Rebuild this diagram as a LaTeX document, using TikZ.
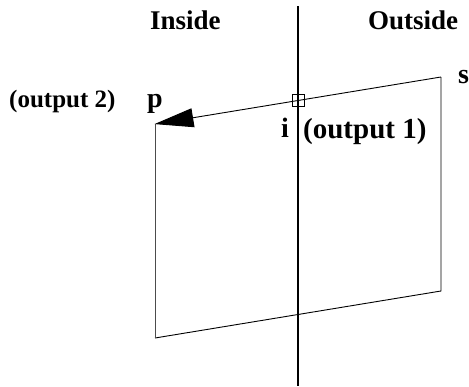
\documentclass[tikz,border=0pt]{standalone}
\usepackage{fontspec}
\setmainfont{Liberation Serif}
\usetikzlibrary{arrows.meta}
\begin{document}
\begin{tikzpicture}[x=1pt,y=-1pt,
  lbl/.style={inner sep=0pt, anchor=base west, font=\bfseries\fontsize{25}{25}\selectfont},
  letter/.style={lbl, font=\bfseries\fontsize{28}{28}\selectfont},
  biglbl/.style={lbl, font=\bfseries\fontsize{27}{27}\selectfont},
  edge/.style={line width=0.9pt},
  divider/.style={line width=2pt}]
\useasboundingbox (0,0) rectangle (469,386);
% region labels
\node[biglbl] (inside) at (150,29) {Inside};
\node[biglbl] (outside) at (368,29) {Outside};
% divider line
\coordinate (top) at (298,6);
\coordinate (bot) at (298,386);
\draw[divider] (top) -- (bot);
% polygon corners
\coordinate (P) at (155,124);
\coordinate (S) at (441,77);
\coordinate (BR) at (441,291);
\coordinate (BL) at (155,338);
\draw[edge] (S) -- (BR) -- (BL);
\draw[edge, black!70] (BL) -- (P);
\draw[edge, -{Triangle[length=39pt,width=19pt]}, shorten >=-0.5pt] (S) -- (P);
% intersection marker
\node[draw, line width=0.9pt, minimum size=12pt, inner sep=0pt] (ipt) at (298,100.5) {};
% labels
\node[lbl] (out2) at (9,107) {(output 2)};
\node[letter] (plbl) at (147,107) {p};
\node[letter] (slbl) at (458,83) {s};
\node[letter] (ilbl) at (281,137) {i};
\node[lbl, font=\bfseries\fontsize{29}{29}\selectfont] (out1) at (303,138) {(output 1)};
\end{tikzpicture}
\end{document}
